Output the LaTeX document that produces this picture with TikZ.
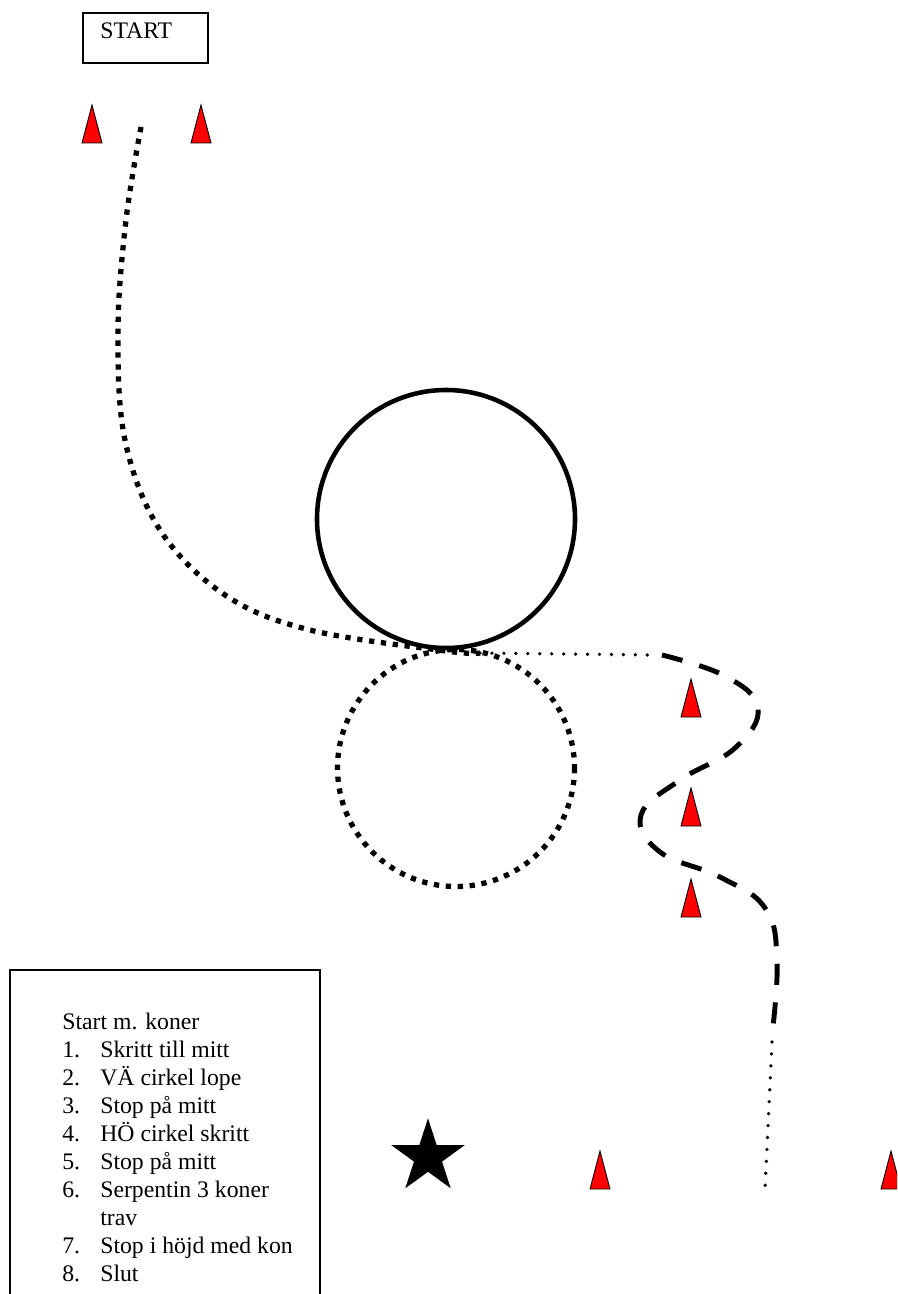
\documentclass[tikz,border=0pt]{standalone}
\usepackage{fontspec}
\setmainfont{Liberation Serif}
\usetikzlibrary{shapes.geometric}
\tikzset{
  cone/.style={fill=red, draw=black, line width=0.5pt},
  bigdots/.style={line width=3pt, dash pattern=on 3pt off 3.8pt},
  smalldots/.style={line width=2.1pt, line cap=round, dash pattern=on 0pt off 6.8pt},
  serpline/.style={line width=2.8pt, dash pattern=on 12pt off 10pt},
  listtext/.style={inner sep=0pt, anchor=base west, font=\fontsize{13.5}{16}\selectfont},
}
\begin{document}
\begin{tikzpicture}[x=0.02cm, y=-0.02cm]
\useasboundingbox (0,0) rectangle (897,1294);
\clip (0,0) rectangle (897,1294);
\node[draw, line width=1.1pt, minimum width=70.9pt, minimum height=28.3pt, anchor=north west] (startbox) at (82,12) {};
\node[listtext] (start) at (100,39) {START};
\foreach \x/\y in {92/143, 201/143, 691/717, 691/826, 691/917, 600/1189, 891/1189}
    \filldraw[cone] (\x-10,\y) -- (\x,\y-38) -- (\x+10,\y) -- cycle;
\draw[line width=2.6pt] (446,519) circle[radius=129];
\draw[bigdots] (456,768) circle[radius=118.5];
\coordinate (mid) at (446,651);
\draw[bigdots] plot[smooth, tension=0.6] coordinates {(141,127) (126,220) (118,330) (125,440) (160,530) (225,595) (310,630) (mid) (480,653)};
\draw[smalldots] (480,653) -- (655,655);
\draw[serpline] plot[smooth, tension=0.7] coordinates {(662,655) (725,676) (758,708) (735,748) (680,780) (641,815) (660,852) (720,877) (765,908) (777,960) (772,1035)};
\draw[smalldots] (772,1042) -- (765,1190);
\node[star, star points=5, star point ratio=2.618, fill=black, inner sep=0pt, minimum size=44pt] (goal) at (428,1157) {};
\draw[line width=1.1pt] (10,970) rectangle (320,1320);
\node[listtext] (head) at (62,1029) {Start m. koner};
\foreach \n/\t/\y in {1/Skritt till mitt/1057, 2/VÄ cirkel lope/1085, 3/Stop på mitt/1113, 4/HÖ cirkel skritt/1141, 5/Stop på mitt/1169, 6/Serpentin 3 koner/1197, 7/Stop i höjd med kon/1253, 8/Slut/1281}
    {\node[listtext] (num\n) at (62,\y) {\n.};
     \node[listtext] (item\n) at (100,\y) {\t};}
\node[listtext] (trav) at (100,1225) {trav};
\end{tikzpicture}
\end{document}
